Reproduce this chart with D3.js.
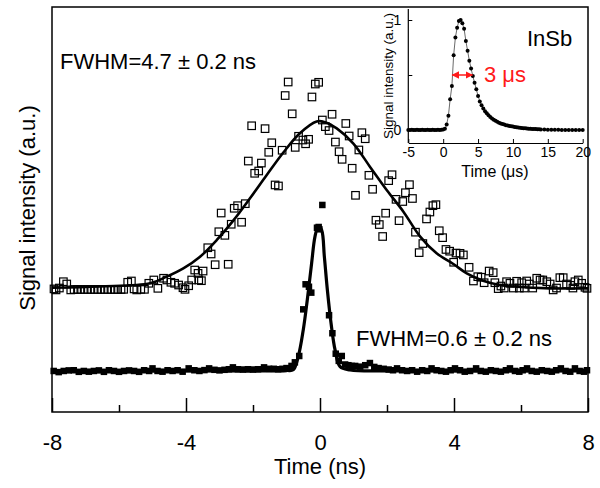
<!DOCTYPE html>
<html><head><meta charset="utf-8">
<script src="https://cdn.jsdelivr.net/npm/d3@7"></script>
<style>
body{margin:0;background:#fff}
svg{display:block}
text{font-family:"Liberation Sans",Arial,Helvetica,sans-serif;fill:#000}
</style>
</head><body>
<svg id="chart" width="600" height="488"></svg>
<script>
// ---------- data ----------
const xMajorTicks = [-8, -4, 0, 4, 8];
const xMinorTicks = [-6, -2, 2, 6];

// open squares : [time ns, signal a.u.]
const openPts = [
[-7.94,0.57],[-7.88,0.563],[-7.78,0.576],[-7.66,0.62],[-7.56,0.604],[-7.44,0.563],[-7.34,0.566],[-7.24,0.566],
[-7.14,0.566],[-7.04,0.566],[-6.94,0.566],[-6.84,0.566],[-6.74,0.566],[-6.64,0.566],[-6.54,0.566],[-6.44,0.566],
[-6.34,0.566],[-6.24,0.566],[-6.14,0.566],[-6.04,0.566],[-5.94,0.566],[-5.86,0.567],[-5.74,0.616],[-5.63,0.625],
[-5.55,0.57],[-5.47,0.563],[-5.35,0.567],[-5.24,0.567],[-5.11,0.609],[-4.96,0.632],[-4.84,0.574],[-4.67,0.644],
[-4.57,0.632],[-4.45,0.616],[-4.34,0.609],[-4.22,0.597],[-4.09,0.578],[-4.03,0.567],[-3.92,0.592],[-3.83,0.632],
[-3.74,0.701],[-3.64,0.678],[-3.62,0.632],[-3.54,0.627],[-3.49,0.694],[-3.35,0.856],[-3.25,0.8125],[-3.13,0.738],
[-3.02,0.967],[-2.95,1.097],[-2.84,0.942],[-2.74,0.741],[-2.65,1.019],[-2.56,1.13],[-2.46,1.148],[-2.34,1.033],
[-2.23,1.162],[-2.14,1.458],[-2.04,1.703],[-1.95,1.373],[-1.83,1.389],[-1.75,1.444],[-1.64,1.683],[-1.53,1.519],
[-1.44,1.585],[-1.34,1.292],[-1.24,1.285],[-1.13,1.533],[-1.04,1.913],[-0.95,2.007],[-0.83,1.786],[-0.74,1.553],
[-0.64,1.63],[-0.51,1.604],[-0.43,1.578],[-0.34,1.609],[-0.24,1.903],[-0.14,1.993],[-0.04,2.005],[0.07,1.743],
[0.16,1.697],[0.27,1.67],[0.36,1.783],[0.46,1.59],[0.57,1.523],[0.66,1.47],[0.77,1.719],[0.87,1.632],
[0.96,1.408],[1.06,1.22],[1.16,1.535],[1.25,1.655],[1.35,1.613],[1.46,1.359],[1.57,1.262],[1.67,1.047],
[1.77,1.017],[1.87,0.934],[1.96,1.096],[2.05,1.322],[2.15,1.363],[2.27,1.192],[2.36,1.044],[2.47,1.177],
[2.55,1.238],[2.67,1.294],[2.76,1.198],[2.85,0.964],[2.96,0.822],[3.07,0.885],[3.18,1.056],[3.28,1.104],
[3.37,1.148],[3.46,1.155],[3.56,0.974],[3.66,0.926],[3.76,0.844],[3.87,0.832],[3.99,0.755],[4.06,0.819],
[4.18,0.817],[4.28,0.806],[4.45,0.72],[4.58,0.625],[4.71,0.655],[4.81,0.651],[4.90,0.613],[5.05,0.694],
[5.17,0.683],[5.22,0.613],[5.32,0.572],[5.40,0.59],[5.5,0.576],[5.57,0.62],[5.67,0.609],[5.77,0.576],
[5.87,0.623],[5.95,0.576],[6.02,0.613],[6.1,0.576],[6.17,0.625],[6.25,0.604],[6.35,0.576],[6.47,0.644],
[6.57,0.632],[6.65,0.632],[6.77,0.62],[6.87,0.604],[6.96,0.563],[7.06,0.576],[7.16,0.648],[7.26,0.648],
[7.36,0.604],[7.48,0.595],[7.55,0.576],[7.61,0.62],[7.71,0.632],[7.81,0.609],[7.91,0.581],[7.97,0.574]
];

// filled squares : [time ns, signal a.u.]
const solidPts = [
[-7.95,0],[-7.8,-0.008],[-7.65,0],[-7.5,0.004],[-7.35,0.005],[-7.2,-0.006],[-7.05,0],[-6.9,-0.005],[-6.75,0],
[-6.6,0.004],[-6.45,-0.006],[-6.3,0.005],[-6.15,0],[-6.0,-0.006],[-5.85,0],[-5.7,0.004],[-5.55,0],[-5.4,-0.006],
[-5.25,0.005],[-5.1,0],[-5.0,0.018],[-4.85,0],[-4.7,-0.005],[-4.55,0.005],[-4.4,0],[-4.25,0.005],[-4.1,-0.005],
[-3.92,0.018],[-3.75,0.005],[-3.6,0],[-3.45,0.006],[-3.31,0.018],[-3.15,0.008],[-3.0,0.004],[-2.85,0.008],
[-2.72,0.012],[-2.6,0.025],[-2.45,0.012],[-2.3,0.01],[-2.15,0.012],[-2.0,0.01],[-1.85,0.012],[-1.67,0.025],
[-1.52,0.015],[-1.38,0.015],[-1.25,0.012],[-1.12,0.015],[-1.0,0.02],[-0.85,0.035],[-0.75,0.06],[-0.62,0.104],
[-0.5,0.428],[-0.43,0.602],[-0.33,0.585],[-0.26,0.544],[-0.09,0.995],[-0.04,1.0],[-0.02,0.984],[0.07,1.153],
[0.27,0.387],[0.37,0.262],[0.47,0.12],[0.56,0.07],[0.65,0.104],[0.75,0.045],[0.85,0.04],[0.95,0.035],
[1.05,0.035],[1.2,0.03],[1.35,0.04],[1.49,0.055],[1.62,0.028],[1.75,0.02],[1.9,0.015],[2.05,0.01],[2.18,0.005],
[2.3,0.018],[2.45,0.005],[2.6,0],[2.75,0.005],[2.9,-0.005],[3.05,0.005],[3.2,0],[3.33,0.018],[3.48,0.005],
[3.62,0],[3.76,-0.005],[3.9,0.005],[4.03,0.018],[4.18,0.005],[4.32,-0.005],[4.48,0],[4.66,0.018],[4.8,0],
[4.95,-0.005],[5.1,0.005],[5.25,0],[5.4,-0.005],[5.55,0.005],[5.67,0.018],[5.82,0],[5.95,-0.005],[6.05,0.005],
[6.18,0.018],[6.32,0],[6.47,-0.005],[6.62,0.005],[6.78,0],[6.92,-0.005],[7.05,0.005],[7.19,0.018],[7.33,0],
[7.47,-0.005],[7.61,0.018],[7.75,0],[7.88,-0.005],[7.97,0.005]
];

// fitted curves
const openFit = [
[-8.0,0.578],[-6.57,0.587],[-5.07,0.609],[-4.58,0.655],[-4.08,0.713],[-3.58,0.794],[-3.08,0.91],[-2.59,1.044],
[-2.09,1.199],[-1.59,1.361],[-1.10,1.516],[-0.60,1.651],[-0.10,1.733],[0.15,1.728],[0.50,1.685],[0.99,1.581],
[1.49,1.419],[1.99,1.257],[2.49,1.106],[2.99,0.933],[3.48,0.817],[3.98,0.743],[4.38,0.678],[4.87,0.627],
[5.37,0.597],[5.87,0.585],[6.87,0.574],[8.0,0.574]
];
const solidFit = [
[-8.0,0],[-2.0,0.0],[-1.0,0.003],[-0.8,0.008],[-0.65,0.099],[-0.5,0.285],[-0.38,0.493],[-0.25,0.748],
[-0.15,0.933],[-0.05,1.007],[0.05,0.979],[0.13,0.794],[0.22,0.5625],[0.33,0.331],[0.45,0.146],[0.6,0.03],
[0.9,0.007],[2.0,0.0],[8.0,0]
];

// inset : [time µs, normalised signal]
const insetPts = [
[-5,0],[-4.75,0],[-4.5,0.003],[-4.25,0],[-4,0],[-3.75,0.003],[-3.5,0],[-3.25,0],[-3,0.003],[-2.75,0],[-2.5,0],
[-2.25,0.003],[-2,0],[-1.75,0],[-1.5,0.003],[-1.25,0],[-1,0],[-0.75,0.003],[-0.5,0],[-0.25,0.003],[0,0.005],
[0.25,0.012],[0.5,0.05],[0.75,0.13],[1.0,0.28],[1.25,0.40],[1.5,0.68],[1.75,0.84],[2.0,0.93],[2.25,0.99],
[2.5,1.0],[2.75,0.97],[3.0,0.92],[3.25,0.81],[3.5,0.72],[3.75,0.63],[4.0,0.56],[4.25,0.49],[4.5,0.43],
[4.75,0.37],[5.0,0.31],[5.25,0.26],[5.5,0.225],[5.75,0.195],[6.0,0.17],[6.25,0.152],[6.5,0.135],[6.75,0.118],
[7.0,0.104],[7.25,0.094],[7.5,0.083],[7.75,0.074],[8.0,0.066],[8.25,0.06],[8.5,0.054],[8.75,0.049],[9.0,0.044],
[9.25,0.04],[9.5,0.037],[9.75,0.034],[10.0,0.031],[10.25,0.028],[10.5,0.026],[10.75,0.023],[11.0,0.021],
[11.25,0.019],[11.5,0.017],[11.75,0.015],[12.0,0.014],[12.25,0.012],[12.5,0.011],[12.75,0.01],[13.0,0.009],
[13.25,0.008],[13.5,0.007],[13.75,0.006],[14.0,0.005],[14.5,0.004],[15.0,0.003],[15.5,0.003],[16.0,0.002],
[16.5,0.002],[17.0,0.001],[17.5,0.001],[18.0,0],[18.5,0],[19.0,0],[19.5,0],[20.0,0]
];
const insetXTicks = [-5, 0, 5, 10, 15, 20];
const insetYTicks = [0, 0.5, 1];
const insetYLabels = ["0", "", "1"];
const insetFwhm = [1.3, 4.2, 0.5];   // start, end, level

// ---------- drawing ----------
const svg = d3.select("#chart");
const FONT = 22;
const FF = '"Liberation Sans",Arial,sans-serif';
const plain = d => String(d);   // hyphen-minus like the original

const x = d3.scaleLinear().domain([-8, 8]).range([52, 588]);
const y = d3.scaleLinear().domain([-0.285, 2.528]).range([412, 7]);

// frame
svg.append("rect").attr("x", 52).attr("y", 7).attr("width", 536).attr("height", 405)
  .attr("fill", "none").attr("stroke", "#000").attr("stroke-width", 1.5);

// bottom axis (ticks pointing inward)
const gx = svg.append("g").attr("transform", "translate(0,412)")
  .call(d3.axisBottom(x).tickValues(xMajorTicks).tickSizeInner(-14).tickSizeOuter(0).tickPadding(22)
    .tickFormat(plain));
gx.select(".domain").remove();
gx.selectAll(".tick line").attr("stroke-width", 1.5);
gx.selectAll("text").attr("font-size", FONT).attr("font-family", FF);
const gxm = svg.append("g").attr("transform", "translate(0,412)")
  .call(d3.axisBottom(x).tickValues(xMinorTicks).tickSizeInner(-7).tickSizeOuter(0).tickFormat(""));
gxm.select(".domain").remove();
gxm.selectAll(".tick line").attr("stroke-width", 1.5);

svg.append("text").attr("x", 320).attr("y", 474).attr("text-anchor", "middle")
  .attr("font-size", FONT).text("Time (ns)");
svg.append("text").attr("transform", "translate(35,208) rotate(-90)").attr("text-anchor", "middle")
  .attr("font-size", FONT).text("Signal intensity (a.u.)");

// fits
const line = d3.line().x(d => x(d[0])).y(d => y(d[1])).curve(d3.curveCatmullRom.alpha(0.5));
svg.append("path").attr("d", line(openFit)).attr("fill", "none").attr("stroke", "#000").attr("stroke-width", 2.6);
svg.append("path").attr("d", line(solidFit)).attr("fill", "none").attr("stroke", "#000").attr("stroke-width", 3.2);

// open squares
const so = 7.5;
svg.append("g").selectAll("rect").data(openPts).join("rect")
  .attr("x", d => x(d[0]) - so / 2).attr("y", d => y(d[1]) - so / 2)
  .attr("width", so).attr("height", so)
  .attr("fill", "none").attr("stroke", "#000").attr("stroke-width", 1.2);

// filled squares
const ss = 6.5;
svg.append("g").selectAll("rect").data(solidPts).join("rect")
  .attr("x", d => x(d[0]) - ss / 2).attr("y", d => y(d[1]) - ss / 2)
  .attr("width", ss).attr("height", ss).attr("fill", "#000");

// annotations
svg.append("text").attr("x", 60).attr("y", 69).attr("font-size", FONT).text("FWHM=4.7 \u00B1 0.2 ns");
svg.append("text").attr("x", 356).attr("y", 346).attr("font-size", FONT).text("FWHM=0.6 \u00B1 0.2 ns");

// ---------- inset ----------
const xi = d3.scaleLinear().domain([-5, 20]).range([408.3, 582.7]);
const yi = d3.scaleLinear().domain([0, 1]).range([130, 20]);
const insetBottom = 143, insetTop = 9;

const gi = svg.append("g");
const axI = gi.append("g").attr("transform", `translate(0,${insetBottom})`)
  .call(d3.axisBottom(xi).tickValues(insetXTicks).tickSizeInner(-4).tickSizeOuter(0).tickPadding(4)
    .tickFormat(plain));
axI.selectAll("text").attr("font-size", 14).attr("font-family", FF);
axI.select(".domain").attr("stroke-width", 1.2);
const ayI = gi.append("g").attr("transform", "translate(408.3,0)")
  .call(d3.axisLeft(yi).tickValues(insetYTicks).tickSizeInner(-4).tickSizeOuter(0).tickPadding(7)
    .tickFormat((d, i) => insetYLabels[i]));
ayI.select(".domain").attr("d", `M0,${insetTop}V${insetBottom}`).attr("stroke-width", 1.2);
ayI.selectAll("text").attr("font-size", 14).attr("font-family", FF);

gi.append("text").attr("x", 495).attr("y", 177).attr("text-anchor", "middle").attr("font-size", 16)
  .text("Time (\u03BCs)");
gi.append("text").attr("transform", "translate(393,76) rotate(-90)").attr("text-anchor", "middle")
  .attr("font-size", 13.5).text("Signal intensity (a.u.)");

const lineI = d3.line().x(d => xi(d[0])).y(d => yi(d[1]));
gi.append("path").attr("d", lineI(insetPts)).attr("fill", "none").attr("stroke", "#444").attr("stroke-width", 0.8);
gi.append("g").selectAll("circle").data(insetPts).join("circle")
  .attr("cx", d => xi(d[0])).attr("cy", d => yi(d[1])).attr("r", 2).attr("fill", "#000");

// red FWHM arrow
const defs = svg.append("defs");
defs.append("marker").attr("id", "ah").attr("viewBox", "0 0 10 10").attr("refX", 9).attr("refY", 5)
  .attr("markerWidth", 5).attr("markerHeight", 5).attr("orient", "auto-start-reverse")
  .append("path").attr("d", "M0,0L10,5L0,10z").attr("fill", "#ff1a1a");
gi.append("line").attr("x1", xi(insetFwhm[0])).attr("x2", xi(insetFwhm[1]))
  .attr("y1", yi(insetFwhm[2])).attr("y2", yi(insetFwhm[2]))
  .attr("stroke", "#ff1a1a").attr("stroke-width", 1.5)
  .attr("marker-start", "url(#ah)").attr("marker-end", "url(#ah)");
gi.append("text").attr("x", 484).attr("y", 82).attr("font-size", 22).style("fill", "#ff1a1a").text("3 \u03BCs");
gi.append("text").attr("x", 527).attr("y", 46).attr("font-size", 22).text("InSb");
</script>
</body></html>
